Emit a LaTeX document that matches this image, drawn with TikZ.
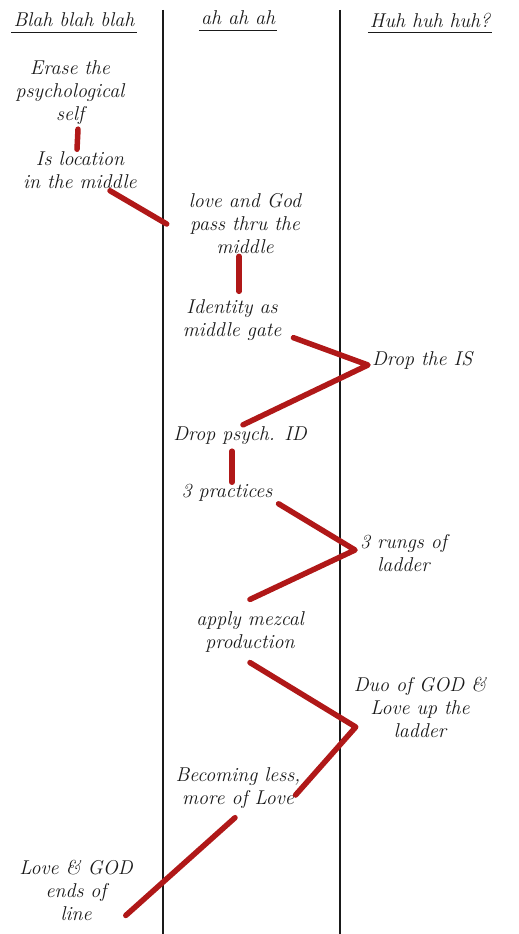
\documentclass[tikz,border=0pt]{standalone}
\usepackage{xcolor}
\definecolor{NoteInk}{HTML}{1A1A1A}
\definecolor{NoteRed}{HTML}{B01818}
\usepackage{tikz}
\usetikzlibrary{positioning}

\begin{document}
\begin{tikzpicture}[
  x=1pt,y=-1pt,
  note/.style={align=center,inner sep=2pt,text=NoteInk,font=\fontsize{20}{23}\selectfont\itshape},
  head/.style={inner sep=2pt,text=NoteInk,font=\fontsize{20}{23}\selectfont\itshape},
  rule/.style={draw=NoteInk,line width=1.1pt},
  colline/.style={draw=NoteInk,line width=2pt},
  stroke/.style={draw=NoteRed,line width=5.5pt,line cap=round,line join=round}
]
  \useasboundingbox[fill=white] (0,0) rectangle (519,934);
  % columns
  \draw[colline] (163,10) -- (163,934);
  \draw[colline] (340,10) -- (340,934);
  % headers
  \node[head] (blah) at (74,20) {Blah blah blah};
  \node[head] (ahah) at (238,18) {ah ah ah};
  \node[head] (huh) at (430,20) {Huh huh huh?};
  \draw[rule] ([yshift=-3pt]blah.south west) -- ([yshift=-3pt]blah.south east);
  \draw[rule] ([yshift=-3pt]ahah.south west) -- ([yshift=-3pt]ahah.south east);
  \draw[rule] ([yshift=-3pt]huh.south west) -- ([yshift=-3pt]huh.south east);
  % notes
  \node[note] (erase) at (70,93) {Erase the\\psychological\\self};
  \node[note] (location) at (80,170) {Is location\\in the middle};
  \node[note] (lovegod) at (245,224) {love and God\\pass thru the\\middle};
  \node[note] (identity) at (232,320) {Identity as\\middle gate};
  \node[note,anchor=west] (dropis) at (370,360) {Drop the IS};
  \node[note] (dropid) at (240,436) {Drop psych. ID};
  \node[note] (practices) at (227,493) {3 practices};
  \node[note,anchor=west] (rungs) at (358,553) {3 rungs of\\ladder};
  \node[note] (apply) at (250,632) {apply mezcal\\production};
  \node[note] (duo) at (420,707) {Duo of GOD \&\\Love up the\\ladder};
  \node[note] (becoming) at (238,788) {Becoming less,\\more of Love};
  \node[note] (ends) at (76,890) {Love \& GOD\\ends of\\line};
  % red path
  \draw[stroke] ([xshift=8pt,yshift=-2pt]erase.south) -- ([xshift=-3pt]location.north);
  \draw[stroke] ([xshift=30pt]location.south) -- ([xshift=-20pt]lovegod.west);
  \draw[stroke] ([xshift=-6pt]lovegod.south) -- ([xshift=7pt,yshift=6pt]identity.north);
  \draw[stroke] ([xshift=10pt,yshift=5pt]identity.south east) -- ([xshift=-2pt,yshift=-5pt]dropis.west) -- ([xshift=3pt]dropid.north);
  \draw[stroke] ([xshift=-8pt,yshift=-4pt]dropid.south) -- ([xshift=5pt]practices.north);
  \draw[stroke] ([xshift=4pt]practices.south east) -- ([xshift=-3pt,yshift=3pt]rungs.west) -- ([yshift=10pt]apply.north);
  \draw[stroke] ([yshift=-8pt]apply.south) -- ([xshift=4pt,yshift=-20pt]duo.west) -- ([xshift=-7pt,yshift=-7pt]becoming.east);
  \draw[stroke] ([xshift=-3pt,yshift=-7pt]becoming.south) -- ([xshift=-9pt,yshift=7pt]ends.south east);
\end{tikzpicture}
\end{document}
